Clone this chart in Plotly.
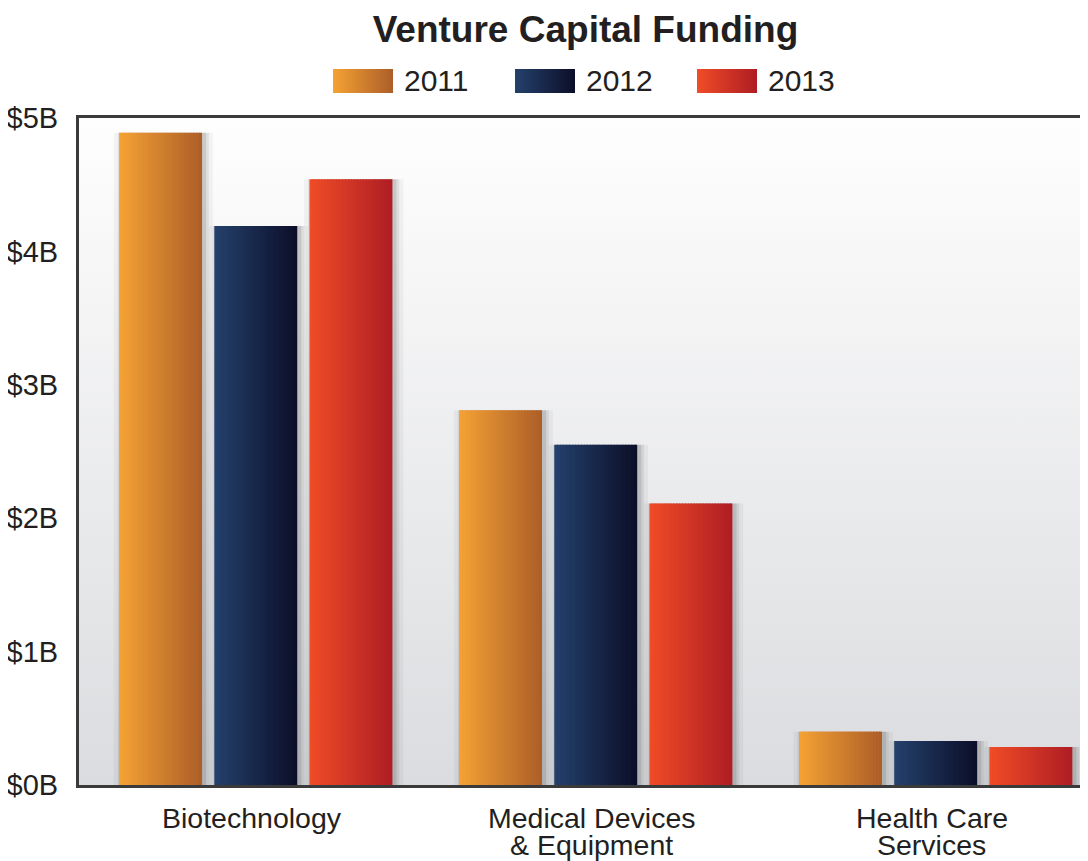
import base64
import plotly.graph_objects as go

# ---------------- data ----------------
categories = ["Biotechnology", "Medical Devices & Equipment", "Health Care Services"]
category_lines = [["Biotechnology"], ["Medical Devices", "& Equipment"], ["Health Care", "Services"]]
years = ["2011", "2012", "2013"]
values_2011 = [4.89, 2.81, 0.40]
values_2012 = [4.19, 2.55, 0.33]
values_2013 = [4.54, 2.11, 0.285]
tick_vals = [0, 1, 2, 3, 4, 5]
tick_text = ["$0B", "$1B", "$2B", "$3B", "$4B", "$5B"]
title_text = "Venture Capital Funding"

# ---------------- style ----------------
OFF = 8  # page body margin
W, H = 1088 - OFF, 861 - OFF
P_LEFT, P_TOP, P_BOTTOM = 79, 118, 785
L = P_LEFT - OFF
T = P_TOP - OFF
B = H - (P_BOTTOM - OFF)
R = 0
PW, PH = W - L - R, H - T - B
FONT = "Liberation Sans, Arial, Helvetica, sans-serif"
TXT = "#231f20"
grad = {
    "2011": ((245, 162, 52), (172, 94, 40)),
    "2012": ((36, 65, 108), (12, 14, 40)),
    "2013": ((240, 76, 38), (174, 29, 36)),
}
series = {"2011": values_2011, "2012": values_2012, "2013": values_2013}
slot = 0.28
bar_w = 0.244
N = 28
x_idx = list(range(len(categories)))


def py(page_y):
    return (P_BOTTOM - page_y) / PH


def px(page_x):
    return (page_x - P_LEFT) / PW


def mix(c1, c2, t):
    return "rgb(%d,%d,%d)" % tuple(round(a + (b - a) * t) for a, b in zip(c1, c2))


def svg_uri(svg):
    return "data:image/svg+xml;base64," + base64.b64encode(svg.encode()).decode()


def hgrad_svg(c1, c2):
    return svg_uri(
        '<svg xmlns="http://www.w3.org/2000/svg" width="100" height="40" preserveAspectRatio="none">'
        '<defs><linearGradient id="g" x1="0" y1="0" x2="1" y2="0">'
        f'<stop offset="0" stop-color="rgb{c1}"/><stop offset="1" stop-color="rgb{c2}"/>'
        '</linearGradient></defs><rect width="100" height="40" fill="url(#g)"/></svg>'
    )


fig = go.Figure()

# soft shadows
for k, yr in enumerate(years):
    left = (k - 1) * slot - bar_w / 2
    for dx, a in [(0.004, 0.10), (0.012, 0.07), (0.024, 0.04)]:
        fig.add_trace(go.Bar(
            x=x_idx, y=series[yr], width=bar_w + 2 * dx, offset=left - dx + 0.008,
            marker=dict(color=f"rgba(0,0,0,{a})", line=dict(width=0)),
            showlegend=False, hoverinfo="skip",
        ))

# gradient bars drawn as thin slices
for k, yr in enumerate(years):
    left = (k - 1) * slot - bar_w / 2
    c1, c2 = grad[yr]
    sw = bar_w / N
    for i in range(N):
        t = (i + 0.5) / N
        fig.add_trace(go.Bar(
            x=x_idx, y=series[yr],
            width=sw + (0.003 if i < N - 1 else 0), offset=left + i * sw,
            marker=dict(color=mix(c1, c2, t), line=dict(width=0)),
            name=yr, showlegend=False,
            hovertemplate=f"{yr}: %{{y}}B<extra></extra>",
        ))

images = []
bg = svg_uri(
    '<svg xmlns="http://www.w3.org/2000/svg" width="100" height="100" preserveAspectRatio="none">'
    '<defs><linearGradient id="g" x1="0" y1="0" x2="0" y2="1">'
    '<stop offset="0" stop-color="#fefefe"/><stop offset="1" stop-color="#dbdcdf"/>'
    '</linearGradient></defs><rect width="100" height="100" fill="url(#g)"/></svg>'
)
images.append(dict(source=bg, xref="paper", yref="paper", x=0, y=1, sizex=1, sizey=1,
                   sizing="stretch", xanchor="left", yanchor="top", layer="below"))

annotations = []
sw_left = [333, 515, 697]
for k, yr in enumerate(years):
    c1, c2 = grad[yr]
    images.append(dict(source=hgrad_svg(c1, c2), xref="paper", yref="paper",
                       x=px(sw_left[k]), y=py(69), sizex=60 / PW, sizey=24 / PH,
                       sizing="stretch", xanchor="left", yanchor="top", layer="above"))
    annotations.append(dict(text=yr, xref="paper", yref="paper",
                            x=px(sw_left[k] + 69), y=py(81),
                            xanchor="left", yanchor="middle", showarrow=False,
                            font=dict(family=FONT, size=30, color=TXT)))

for ci, lines in enumerate(category_lines):
    for li, line in enumerate(lines):
        annotations.append(dict(text=line, xref="x", yref="paper", x=x_idx[ci],
                                y=py(818 + 27 * li), xshift=-4,
                                xanchor="center", yanchor="middle", showarrow=False,
                                font=dict(family=FONT, size=28.5, color=TXT)))

fig.update_layout(
    width=W, height=H,
    margin=dict(l=L, r=R, t=T, b=B, pad=0),
    barmode="overlay",
    paper_bgcolor="white", plot_bgcolor="white",
    showlegend=False,
    title=dict(text=f"<b>{title_text}</b>", x=((371 + 800) / 2 - OFF) / W, xanchor="center",
               y=1 - (29 - OFF) / H, yanchor="middle", yref="container",
               font=dict(family=FONT, size=37, color=TXT)),
    images=images,
    annotations=annotations,
    xaxis=dict(range=[-0.520, 2.448], showticklabels=False, showgrid=False, zeroline=False,
               showline=True, mirror=True, linecolor="#3a3a3a", linewidth=3,
               tickvals=x_idx, ticks=""),
    yaxis=dict(range=[0, 5], tickvals=tick_vals, ticktext=tick_text, showgrid=False,
               zeroline=False, showline=True, linecolor="#3a3a3a", linewidth=3,
               ticks="", ticklabelstandoff=12,
               tickfont=dict(family=FONT, size=29, color=TXT)),
)

fig.write_html("out.html")
